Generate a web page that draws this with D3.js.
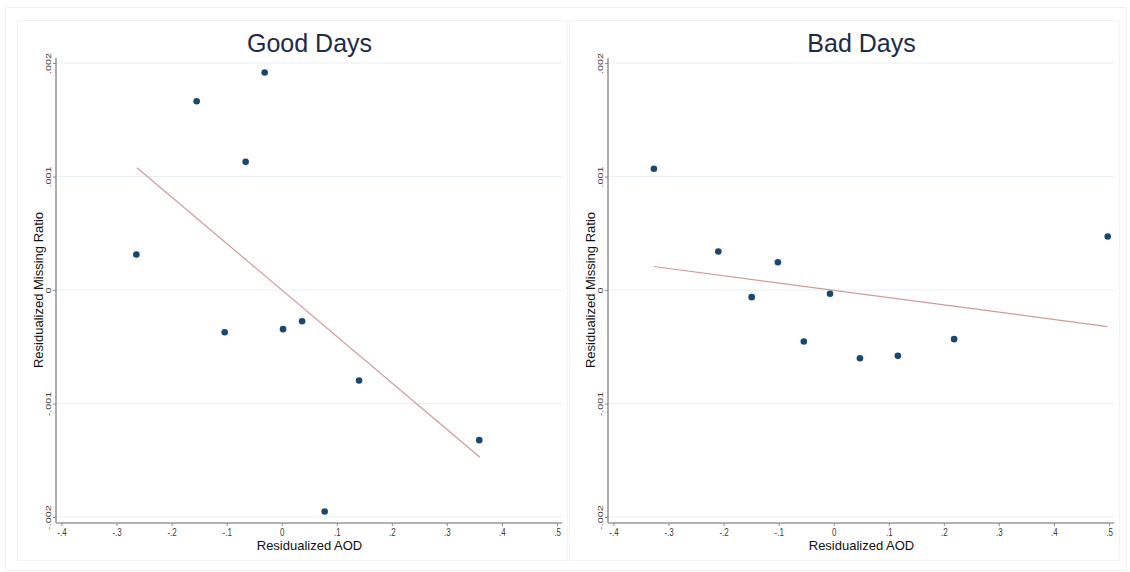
<!DOCTYPE html>
<html>
<head>
<meta charset="utf-8">
<script src="https://cdn.jsdelivr.net/npm/d3@7"></script>
<style>
  body { margin: 0; background: #fff; }
  text { font-family: "Liberation Sans", Arial, Helvetica, sans-serif; }
</style>
</head>
<body>
<div id="graf"></div>
<script>
// panel titles
var titles = ["Good Days", "Bad Days"];

// good days: residualized AOD vs residualized missing ratio
var goodX = [-0.264, -0.1545, -0.031, -0.0655, -0.1036, 0.0024, 0.037, 0.1405, 0.078, 0.3587];
var goodY = [0.000313, 0.001663, 0.001916, 0.001129, -0.000372, -0.000345, -0.000275, -0.000797, -0.001951, -0.001323];
var goodFitX = [-0.263, 0.360];
var goodFitY = [0.001077, -0.001473];

// bad days
var badX = [-0.3266, -0.2096, -0.149, -0.1014, -0.0543, -0.0067, 0.0476, 0.1165, 0.2187, 0.4977];
var badY = [0.001068, 0.000339, -0.000063, 0.000245, -0.000454, -0.000033, -0.000601, -0.00058, -0.000433, 0.000471];
var badFitX = [-0.3266, 0.497];
var badFitY = [0.000207, -0.000322];

// ticks
var xTicks = [-0.4, -0.3, -0.2, -0.1, 0, 0.1, 0.2, 0.3, 0.4, 0.5];
var xTickLabels = ["-.4", "-.3", "-.2", "-.1", "0", ".1", ".2", ".3", ".4", ".5"];
var yTicks = [-0.002, -0.001, 0, 0.001, 0.002];
var yTickLabels = ["-.002", "-.001", "0", ".001", ".002"];

var width = 1130;
var height = 572;

var svg = d3.select("#graf").append("svg")
  .attr("width", width).attr("height", height);

// outer frame
svg.append("rect")
  .attr("x", 5.5).attr("y", 7.5).attr("width", 1121).attr("height", 563)
  .attr("fill", "#fff").attr("stroke", "#eef2f4");

function drawPanel(left, title, xs, ys, fitX, fitY) {
  var g = svg.append("g").attr("transform", "translate(" + left + ",0)");

  // panel box
  g.append("rect")
    .attr("x", 17.5).attr("y", 20.5).attr("width", 550).attr("height", 540)
    .attr("fill", "#fff").attr("stroke", "#f1f3f5");

  var xScale = d3.scaleLinear().domain([-0.4, 0.5]).range([61.5, 557]);
  var yScale = d3.scaleLinear().domain([-0.002, 0.002]).range([517, 63]);

  // gridlines
  g.append("g")
    .selectAll("line")
    .data(yTicks)
    .enter()
    .append("line")
    .attr("x1", 56).attr("x2", 562)
    .attr("y1", function(d) { return yScale(d); })
    .attr("y2", function(d) { return yScale(d); })
    .attr("stroke", "#eaf0f3").attr("stroke-width", 1);

  // x axis
  var xAxis = g.append("g")
    .attr("transform", "translate(0,523)")
    .call(d3.axisBottom(xScale)
      .tickValues(xTicks)
      .tickSize(3)
      .tickPadding(3)
      .tickFormat(function(d, i) { return xTickLabels[i]; }));
  xAxis.select(".domain").attr("d", "M56,0H562").attr("stroke", "#9a9a9a").attr("stroke-width", 1.6);
  xAxis.selectAll(".tick line").attr("stroke", "#8a8a8a");
  xAxis.selectAll(".tick text")
    .attr("font-size", 8).attr("fill", "#3a3a3a")
    .attr("transform", "scale(1,1.25)").attr("y", 4.5);

  // y axis
  var yAxis = g.append("g")
    .attr("transform", "translate(56,0)")
    .call(d3.axisLeft(yScale)
      .tickValues(yTicks)
      .tickSize(3)
      .tickFormat(function(d, i) { return yTickLabels[i]; }));
  yAxis.select(".domain").attr("d", "M0,58V523").attr("stroke", "#9a9a9a").attr("stroke-width", 1.6);
  yAxis.selectAll(".tick line").attr("stroke", "#8a8a8a");
  yAxis.selectAll(".tick text")
    .attr("font-size", 8).attr("fill", "#3a3a3a")
    .attr("text-anchor", "middle")
    .attr("dy", 0).attr("x", 0).attr("y", -5)
    .attr("transform", "rotate(-90) scale(1.35,1)");

  // fit line
  g.append("line")
    .attr("x1", xScale(fitX[0])).attr("y1", yScale(fitY[0]))
    .attr("x2", xScale(fitX[1])).attr("y2", yScale(fitY[1]))
    .attr("stroke", "#cc9c9c").attr("stroke-width", 1.2);

  // points
  g.append("g")
    .selectAll("circle")
    .data(xs)
    .enter()
    .append("circle")
    .attr("cx", function(d) { return xScale(d); })
    .attr("cy", function(d, i) { return yScale(ys[i]); })
    .attr("r", 3.3)
    .attr("fill", "#1a476f");

  // titles
  g.append("text")
    .attr("x", 309.5).attr("y", 52)
    .attr("text-anchor", "middle")
    .attr("font-size", 25).attr("fill", "#1e2b48")
    .text(title);

  g.append("text")
    .attr("x", 309.5).attr("y", 550)
    .attr("text-anchor", "middle")
    .attr("font-size", 13).attr("fill", "#111")
    .text("Residualized AOD");

  g.append("text")
    .attr("transform", "translate(43,290) rotate(-90)")
    .attr("text-anchor", "middle")
    .attr("font-size", 13).attr("fill", "#111")
    .text("Residualized Missing Ratio");
}

drawPanel(0, titles[0], goodX, goodY, goodFitX, goodFitY);
drawPanel(552, titles[1], badX, badY, badFitX, badFitY);
</script>
</body>
</html>
